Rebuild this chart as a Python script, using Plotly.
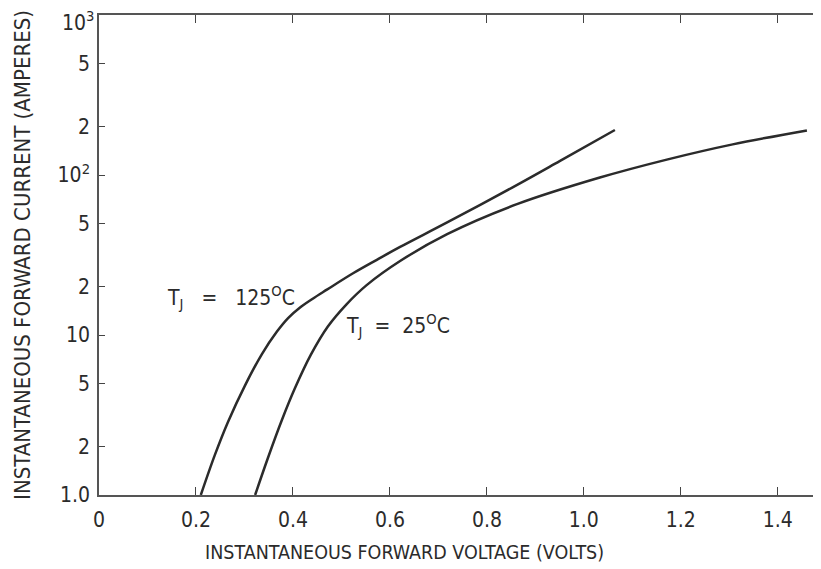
import plotly.graph_objects as go

# T_J = 125 C curve (volts, amperes)
v_125 = [0.210, 0.239, 0.266, 0.301, 0.336, 0.367, 0.390, 0.414, 0.440, 0.470, 0.524, 0.573, 0.621, 0.718, 0.854, 0.950, 1.064]
i_125 = [1.0, 1.78, 2.86, 4.83, 7.60, 10.5, 12.75, 14.8, 16.8, 19.2, 24.3, 29.5, 35.5, 50.5, 84, 122, 191]

# T_J = 25 C curve (volts, amperes)
v_25 = [0.322, 0.348, 0.377, 0.404, 0.437, 0.472, 0.510, 0.552, 0.621, 0.718, 0.862, 1.033, 1.171, 1.307, 1.460]
i_25 = [1.0, 1.69, 2.93, 4.64, 7.53, 11.3, 15.5, 20.5, 29.0, 42.7, 65.7, 96.4, 124.8, 155.4, 190]

x_tickvals = [0, 0.2, 0.4, 0.6, 0.8, 1.0, 1.2, 1.4]
x_ticktext = ["0", "0.2", "0.4", "0.6", "0.8", "1.0", "1.2", "1.4"]
y_tickvals = [1, 2, 5, 10, 20, 50, 100, 200, 500, 1000]
y_ticktext = ["1.0", "2", "5", "10", "2", "5", "10<sup>2</sup>", "2", "5", "10<sup>3</sup>"]

x_title = "INSTANTANEOUS FORWARD VOLTAGE (VOLTS)"
y_title = "INSTANTANEOUS FORWARD CURRENT (AMPERES)"

NB = "\u00a0"
label_125 = "T<sub>J</sub>" + NB * 3 + "=" + NB * 3 + "125<sup>O</sup>C"
label_25 = "T<sub>J</sub>" + NB * 2 + "=" + NB * 2 + "25<sup>O</sup>C"

FONT = "Liberation Sans Narrow, DejaVu Sans Condensed, Arial Narrow, sans-serif"
INK = "#2b2b2b"

fig = go.Figure()
fig.add_trace(go.Scatter(x=v_125, y=i_125, mode="lines",
                         line=dict(color=INK, width=2.5, shape="spline", smoothing=1.0), showlegend=False))
fig.add_trace(go.Scatter(x=v_25, y=i_25, mode="lines",
                         line=dict(color=INK, width=2.5, shape="spline", smoothing=1.0), showlegend=False))

fig.add_annotation(x=0.272, y=1.24, xref="x", yref="y", text=label_125, showarrow=False,
                   font=dict(family=FONT, size=21, color=INK))
fig.add_annotation(x=0.617, y=1.06, xref="x", yref="y", text=label_25, showarrow=False,
                   font=dict(family=FONT, size=21, color=INK))

# top tick label drawn slightly lower so it is not clipped by the page edge
ytext_main = y_ticktext[:-1] + [""]
fig.add_annotation(x=0, y=3, xref="paper", yref="y", text=y_ticktext[-1], showarrow=False,
                   xanchor="right", yanchor="middle", xshift=-3, yshift=-6,
                   font=dict(family=FONT, size=21, color=INK))

# x-axis title sits left of the plot centre in the reference
fig.add_annotation(x=0.424, y=0, xref="paper", yref="paper", text=x_title, showarrow=False,
                   xanchor="center", yanchor="middle", yshift=-57,
                   font=dict(family=FONT, size=19.5, color=INK))

# page body adds an 8px offset, so the figure is sized to fill the window
fig.update_layout(
    width=813, height=561,
    margin=dict(l=91, r=1, t=7, b=74),
    paper_bgcolor="white", plot_bgcolor="white",
    font=dict(family=FONT, size=21, color=INK),
    xaxis=dict(range=[0, 1.487], tickvals=x_tickvals, ticktext=x_ticktext,
               ticks="inside", ticklen=8, tickwidth=1.3, tickcolor="#444",
               showline=True, linecolor="#555", linewidth=1.5, mirror="ticks",
               showgrid=False, zeroline=False, ticklabelstandoff=5, automargin=False),
    yaxis=dict(type="log", range=[0, 3], tickvals=y_tickvals, ticktext=ytext_main,
               ticks="inside", ticklen=6, tickwidth=1.3, tickcolor="#444",
               showline=True, linecolor="#555", linewidth=1.5, mirror=False,
               showgrid=False, zeroline=False, ticklabelstandoff=3, automargin=False,
               ticklabeloverflow="allow",
               title=dict(text=y_title, font=dict(size=22), standoff=21)),
)

fig.write_html("out.html")
